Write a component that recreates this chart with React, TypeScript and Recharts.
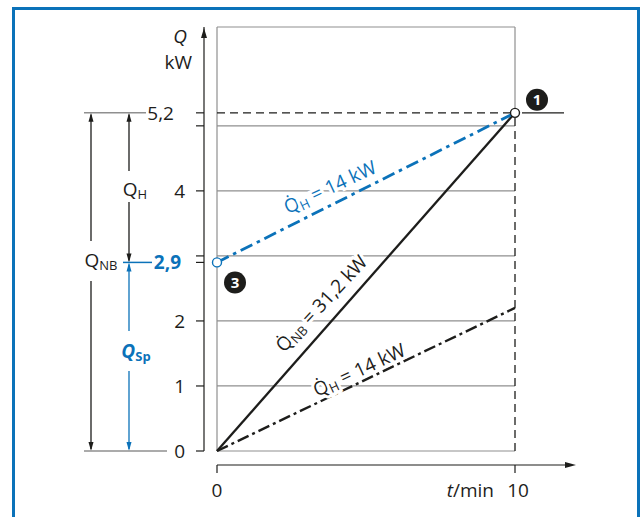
import React from "react";
import { LineChart, Line, XAxis, YAxis, ReferenceLine, ReferenceDot } from "recharts";

// heating power over charging time
const times = [0, 10];
const qNB = [0, 5.2]; // Q̇NB = 31,2 kW
const qHFromZero = [0, 2.2]; // Q̇H = 14 kW, starting empty
const qHFromStore = [2.9, 5.2]; // Q̇H = 14 kW, starting at 2,9
const gridLevels = [1, 2, 3, 4, 5];
const yTickValues = [0, 1, 2, 2.9, 3, 4, 5, 5.2];
const yTickLabels = ["0", "1", "2", "2,9", "", "4", "", "5,2"];
const xTickValues = [0, 10];
const xTickLabels = ["0", "10"];

const Q_TOP = 6.52;
const T_MAX = 10;

const BLUE = "#0b72b9";
const INK = "#1d1d1b";
const GREY = "#8f8f8f";
const FONT = "'Open Sans', 'Noto Sans', sans-serif";
const FS = 19;

const data = times.map((t, i) => ({
  t,
  nb: qNB[i],
  hLow: qHFromZero[i],
  hHigh: qHFromStore[i],
}));

function YTick(props: any) {
  const { x, y, payload } = props;
  const v = payload.value;
  if (v === Q_TOP) {
    return (
      <g>
        <path d={`M${x},${y + 1} L${x - 3},${y + 11} L${x + 3},${y + 11} Z`} fill={INK} />
        <text x={x - 17} y={y + 9} dy="0.36em" textAnchor="end" fontStyle="italic" fontSize={FS} fill={INK} fontFamily={FONT}>
          Q
        </text>
        <text x={x - 12} y={y + 35} dy="0.36em" textAnchor="end" fontSize={FS} fill={INK} fontFamily={FONT}>
          kW
        </text>
      </g>
    );
  }
  const label = yTickLabels[yTickValues.indexOf(v)];
  const store = v === 2.9;
  const top = v === 5.2;
  let labelX = x - 19;
  if (top) labelX = x - 30;
  if (store) labelX = x - 23;
  return (
    <g>
      <line x1={x - 8} x2={x} y1={y} y2={y} stroke={INK} strokeWidth={1.2} />
      {top && <line x1={x - 120} x2={x - 58} y1={y} y2={y} stroke={GREY} strokeWidth={1.5} />}
      {v === 0 && <line x1={x - 120} x2={x - 37} y1={y} y2={y} stroke={GREY} strokeWidth={1.5} />}
      {store && <line x1={x - 81} x2={x - 52} y1={y} y2={y} stroke={BLUE} strokeWidth={1.5} />}
      {label && (
        <text
          x={labelX}
          y={y}
          dy="0.36em"
          textAnchor="end"
          fontSize={FS}
          fontWeight={store ? 700 : 400}
          fill={store ? BLUE : INK}
          fontFamily={FONT}
        >
          {label}
        </text>
      )}
    </g>
  );
}

function XTick(props: any) {
  const { x, y, payload } = props;
  const v = payload.value;
  const label = xTickLabels[xTickValues.indexOf(v)];
  const last = v === T_MAX;
  return (
    <g>
      <line x1={x} x2={x} y1={y} y2={y + 8} stroke={INK} strokeWidth={1.2} />
      {last && (
        <>
          <line x1={x} x2={x + 54} y1={y} y2={y} stroke={INK} strokeWidth={1.2} />
          <path d={`M${x + 61},${y} L${x + 50},${y - 3} L${x + 50},${y + 3} Z`} fill={INK} />
          <text x={x - 21} y={y + 25} dy="0.36em" textAnchor="end" fontSize={FS} fill={INK} fontFamily={FONT}>
            <tspan fontStyle="italic">t</tspan>/min
          </text>
        </>
      )}
      <text x={last ? x + 3 : x} y={y + 25} dy="0.36em" textAnchor="middle" fontSize={FS} fill={INK} fontFamily={FONT}>
        {label}
      </text>
    </g>
  );
}

// vertical dimension arrow left of the axis, label sitting in a gap
function dimension(dx: number, at: number, gapUp: number, gapDown: number, color: string, labelDx: number, main: string, sub: string, bold: boolean) {
  return (p: any) => {
    const X = p.x1 + dx;
    const y1 = p.y1;
    const y2 = p.y2;
    const ly = y1 + (y2 - y1) * at;
    return (
      <g>
        <line x1={X} x2={X} y1={y1 + 2} y2={ly - gapUp} stroke={color} strokeWidth={1.3} />
        <line x1={X} x2={X} y1={ly + gapDown} y2={y2 - 2} stroke={color} strokeWidth={1.3} />
        <path d={`M${X},${y1} L${X - 2.5},${y1 + 9} L${X + 2.5},${y1 + 9} Z`} fill={color} />
        <path d={`M${X},${y2} L${X - 2.5},${y2 - 9} L${X + 2.5},${y2 - 9} Z`} fill={color} />
        <text x={X + labelDx} y={ly} dy="0.36em" textAnchor="middle" fontSize={FS} fill={color} fontWeight={bold ? 700 : 400} fontFamily={FONT}>
          <tspan fontStyle={bold ? "italic" : "normal"}>{main}</tspan>
          <tspan fontSize={13} dy={3}>{sub}</tspan>
        </text>
      </g>
    );
  };
}

function slopeLabel(angle: number, color: string, sub: string, rest: string) {
  return (p: any) => (
    <text
      x={p.cx}
      y={p.cy}
      dy="0.36em"
      transform={`rotate(${angle} ${p.cx} ${p.cy})`}
      textAnchor="middle"
      fontSize={FS}
      fill={color}
      stroke="#fff"
      strokeWidth={6}
      paintOrder="stroke"
      fontFamily={FONT}
    >
      {"Q\u0307"}
      <tspan fontSize={13} dy={3}>{sub}</tspan>
      <tspan dy={-3}>{rest}</tspan>
    </text>
  );
}

function badge(cx: number, cy: number, n: string) {
  return (
    <g>
      <circle cx={cx} cy={cy} r={11} fill={INK} />
      <text x={cx} y={cy} dy="0.36em" textAnchor="middle" fontSize={15} fontWeight={700} fill="#fff" fontFamily={FONT}>
        {n}
      </text>
    </g>
  );
}

export default function App() {
  return (
    <div style={{ position: "absolute", left: 0, top: 0, width: 643, height: 517, overflow: "hidden", background: "#fff" }}>
      <div
        style={{
          position: "absolute",
          left: 12,
          top: 7,
          width: 628,
          height: 560,
          border: `3px solid ${BLUE}`,
          boxSizing: "border-box",
        }}
      />
      <div style={{ position: "absolute", left: 0, top: 0 }}>
        <LineChart width={643} height={517} data={data} margin={{ top: 27, right: 128, bottom: 0, left: 0 }}>
          {/* invisible spacer axes next to the plot; the drawn axes sit outside them */}
          <XAxis type="number" dataKey="t" domain={[0, T_MAX]} height={14} tick={false} axisLine={false} tickLine={false} />
          <XAxis
            xAxisId="time"
            type="number"
            dataKey="t"
            domain={[0, T_MAX]}
            allowDataOverflow
            ticks={xTickValues}
            interval={0}
            height={52}
            tickSize={0}
            tickMargin={0}
            tickLine={false}
            axisLine={{ stroke: INK, strokeWidth: 1.2 }}
            tick={<XTick />}
          />
          <YAxis type="number" domain={[0, Q_TOP]} width={13} tick={false} axisLine={false} tickLine={false} />
          <YAxis
            yAxisId="power"
            type="number"
            dataKey="nb"
            domain={[0, Q_TOP]}
            allowDataOverflow
            ticks={[...yTickValues, Q_TOP]}
            interval={0}
            width={204}
            tickSize={0}
            tickMargin={0}
            tickLine={false}
            axisLine={{ stroke: INK, strokeWidth: 1.2 }}
            tick={<YTick />}
          />

          {gridLevels.map((g) => (
            <ReferenceLine key={g} y={g} stroke={GREY} strokeWidth={1.2} />
          ))}
          <ReferenceLine y={Q_TOP} stroke={GREY} strokeWidth={1.2} />
          <ReferenceLine y={0} stroke={GREY} strokeWidth={1.2} />
          <ReferenceLine x={0} stroke={GREY} strokeWidth={1.2} />
          <ReferenceLine segment={[{ x: T_MAX, y: qNB[1] }, { x: T_MAX, y: Q_TOP }]} stroke={GREY} strokeWidth={1.2} />
          <ReferenceLine segment={[{ x: T_MAX, y: 0 }, { x: T_MAX, y: qNB[1] }]} stroke={INK} strokeWidth={1.3} strokeDasharray="8 5" />
          <ReferenceLine segment={[{ x: 0, y: qNB[1] }, { x: T_MAX, y: qNB[1] }]} stroke={INK} strokeWidth={1.3} strokeDasharray="8 5" />

          <ReferenceLine
            segment={[{ x: 0, y: qNB[1] }, { x: 0, y: 0 }]}
            ifOverflow="visible"
            shape={dimension(-126, 0.435, 19, 21, INK, 10, "Q", "NB", false)}
          />
          <ReferenceLine
            segment={[{ x: 0, y: qNB[1] }, { x: 0, y: qHFromStore[0] }]}
            ifOverflow="visible"
            shape={dimension(-88, 0.51, 18, 13, INK, 6, "Q", "H", false)}
          />
          <ReferenceLine
            segment={[{ x: 0, y: qHFromStore[0] }, { x: 0, y: 0 }]}
            ifOverflow="visible"
            shape={dimension(-88, 0.47, 20, 20, BLUE, 7, "Q", "Sp", true)}
          />

          <Line dataKey="nb" stroke={INK} strokeWidth={2.3} dot={false} activeDot={false} isAnimationActive={false} />
          <Line dataKey="hLow" stroke={INK} strokeWidth={2.4} strokeDasharray="12 4 3 4" dot={false} activeDot={false} isAnimationActive={false} />
          <Line dataKey="hHigh" stroke={BLUE} strokeWidth={2.8} strokeDasharray="13 5 3.5 5" dot={false} activeDot={false} isAnimationActive={false} />

          <ReferenceDot x={3.79} y={4.06} r={0} shape={slopeLabel(-25, BLUE, "H", " = 14 kW")} />
          <ReferenceDot x={3.5} y={2.27} r={0} shape={slopeLabel(-47, INK, "NB", " = 31,2 kW")} />
          <ReferenceDot x={4.77} y={1.25} r={0} shape={slopeLabel(-25, INK, "H", " = 14 kW")} />

          <ReferenceDot
            x={T_MAX}
            y={qNB[1]}
            r={4.5}
            shape={(p: any) => (
              <g>
                <line x1={p.cx + 7} x2={p.cx + 49} y1={p.cy} y2={p.cy} stroke={INK} strokeWidth={1.3} />
                <circle cx={p.cx} cy={p.cy} r={4.5} fill="#fff" stroke={INK} strokeWidth={1.4} />
                {badge(p.cx + 22, p.cy - 13, "1")}
              </g>
            )}
          />
          <ReferenceDot
            x={0}
            y={qHFromStore[0]}
            r={4.5}
            shape={(p: any) => (
              <g>
                <circle cx={p.cx} cy={p.cy} r={4.5} fill="#fff" stroke={BLUE} strokeWidth={1.4} />
                {badge(p.cx + 18, p.cy + 20, "3")}
              </g>
            )}
          />
        </LineChart>
      </div>
    </div>
  );
}
